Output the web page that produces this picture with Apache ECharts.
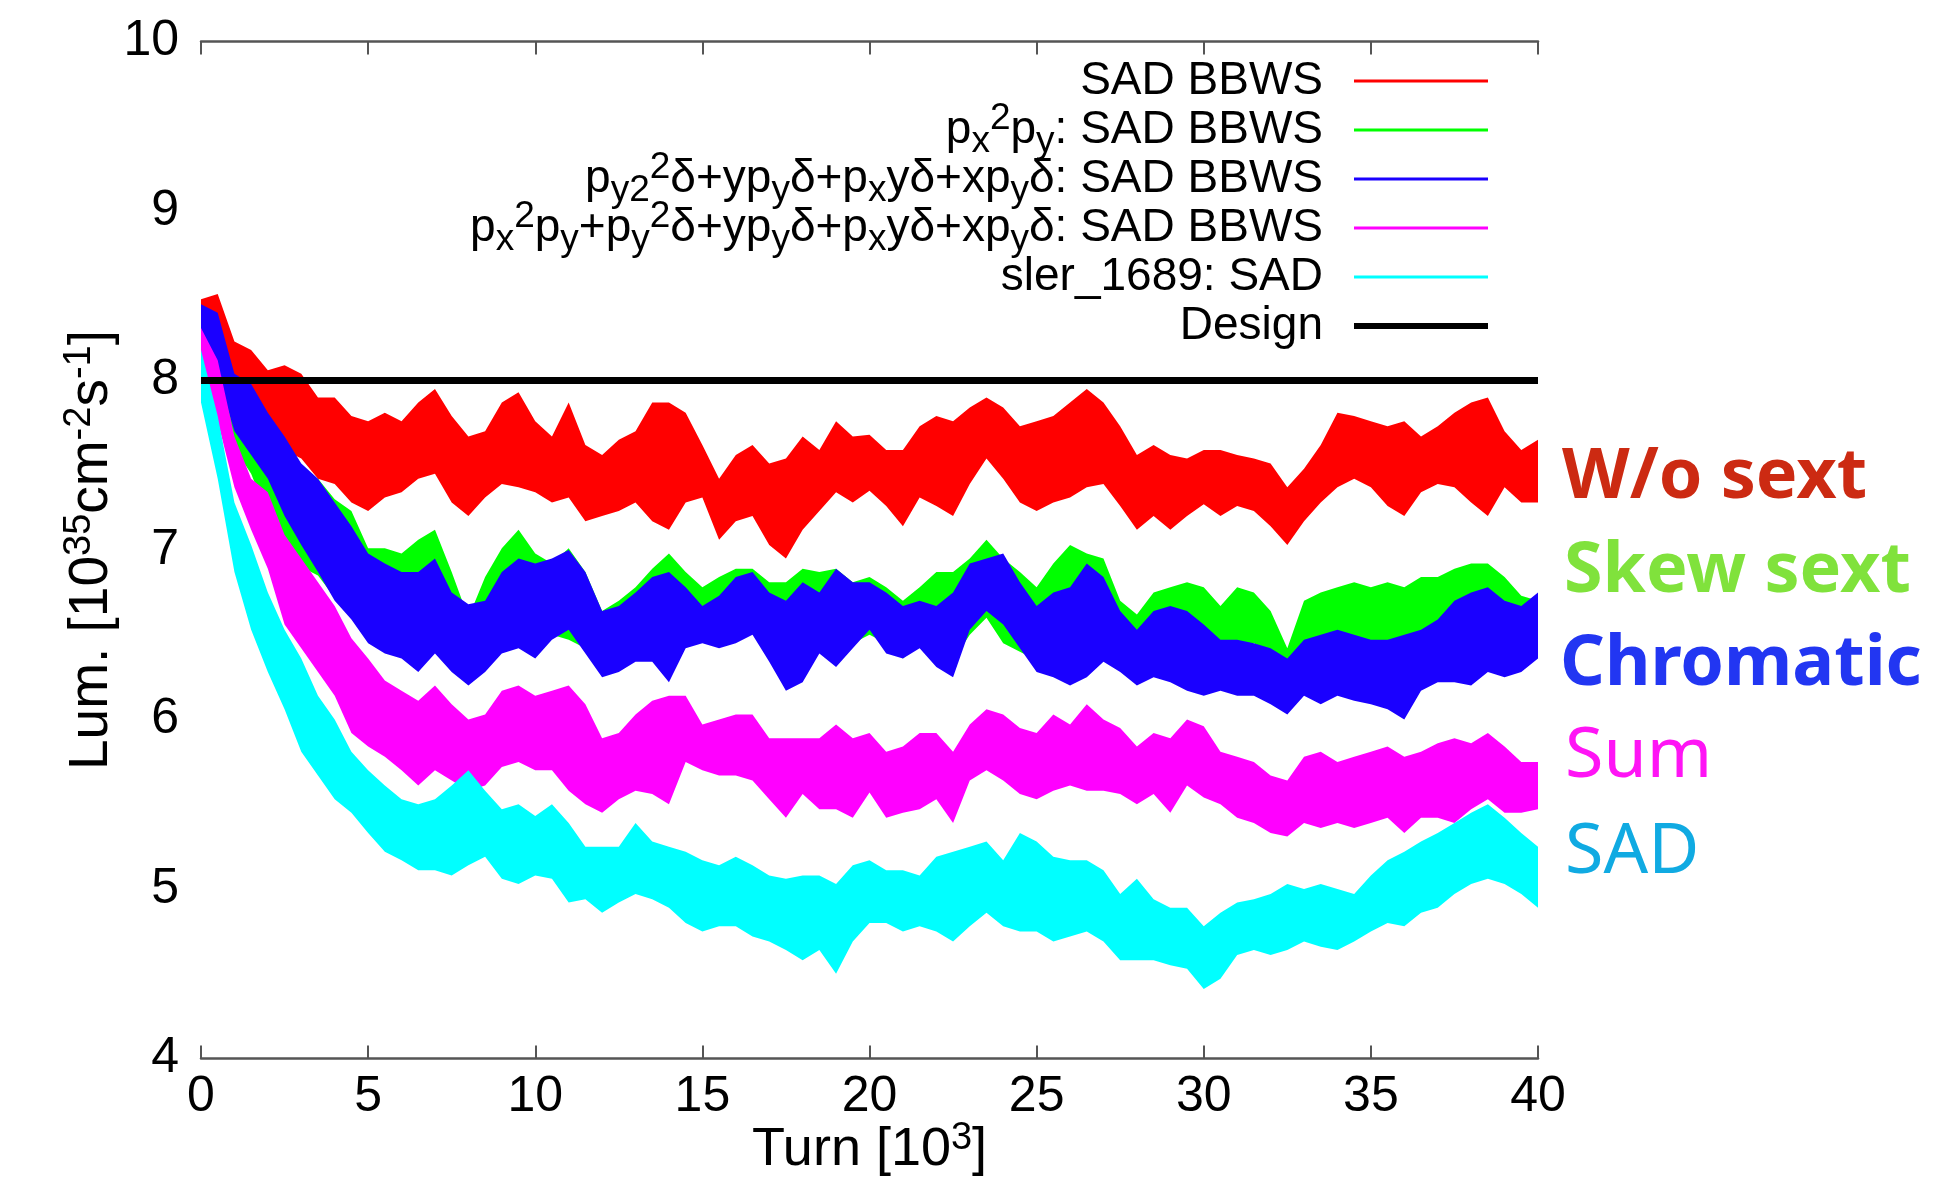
<!DOCTYPE html>
<html>
<head>
<meta charset="utf-8">
<title>Luminosity vs turn</title>
<script src="https://cdn.jsdelivr.net/npm/echarts@6/dist/echarts.min.js"></script>
<style>
  html, body { margin: 0; padding: 0; background: #fff; }
  #chart { width: 1957px; height: 1177px; }
</style>
</head>
<body>
<div id="chart"></div>
<script>
// turn number in units of 10^3, one reading every 500 turns
var turns = [
  0, 0.5, 1, 1.5, 2, 2.5, 3, 3.5, 4, 4.5, 5, 5.5, 6, 6.5, 7, 7.5, 8, 8.5, 9, 9.5,
  10, 10.5, 11, 11.5, 12, 12.5, 13, 13.5, 14, 14.5, 15, 15.5, 16, 16.5, 17, 17.5, 18, 18.5, 19, 19.5,
  20, 20.5, 21, 21.5, 22, 22.5, 23, 23.5, 24, 24.5, 25, 25.5, 26, 26.5, 27, 27.5, 28, 28.5, 29, 29.5,
  30, 30.5, 31, 31.5, 32, 32.5, 33, 33.5, 34, 34.5, 35, 35.5, 36, 36.5, 37, 37.5, 38, 38.5, 39, 39.5, 40
]

// upper / lower edge of each noisy luminosity band [10^35 cm^-2 s^-1]
var redTop = [
  8.48, 8.51, 8.23, 8.18, 8.06, 8.09, 8.04, 7.90, 7.90, 7.79, 7.76, 7.81, 7.76, 7.87, 7.95, 7.79, 7.67, 7.70, 7.87, 7.93, 7.76,
  7.67, 7.87, 7.62, 7.56, 7.65, 7.70, 7.87, 7.87, 7.81, 7.62, 7.42, 7.56, 7.62, 7.51, 7.54, 7.67, 7.59, 7.76, 7.67, 7.68,
  7.59, 7.59, 7.73, 7.79, 7.76, 7.84, 7.90, 7.84, 7.73, 7.76, 7.79, 7.87, 7.95, 7.87, 7.73, 7.56, 7.62, 7.56, 7.54, 7.59,
  7.59, 7.56, 7.54, 7.51, 7.37, 7.48, 7.62, 7.81, 7.79, 7.76, 7.73, 7.76, 7.67, 7.73, 7.81, 7.87, 7.90, 7.70, 7.59, 7.65
]
var redLow = [
  8.20, 8.09, 7.95, 7.90, 7.76, 7.59, 7.54, 7.42, 7.39, 7.28, 7.23, 7.31, 7.34, 7.42, 7.45, 7.28, 7.20, 7.31, 7.39, 7.37, 7.34,
  7.28, 7.31, 7.17, 7.20, 7.23, 7.28, 7.17, 7.12, 7.28, 7.31, 7.06, 7.17, 7.20, 7.03, 6.95, 7.12, 7.23, 7.34, 7.28, 7.35,
  7.26, 7.14, 7.31, 7.26, 7.20, 7.39, 7.54, 7.42, 7.28, 7.23, 7.28, 7.31, 7.37, 7.39, 7.26, 7.12, 7.20, 7.12, 7.20, 7.27,
  7.20, 7.26, 7.23, 7.14, 7.03, 7.17, 7.28, 7.37, 7.42, 7.37, 7.26, 7.20, 7.34, 7.39, 7.37, 7.28, 7.20, 7.37, 7.28, 7.28
]
var greenTop = [
  8.40, 8.35, 8.00, 7.90, 7.75, 7.60, 7.45, 7.42, 7.30, 7.23, 7.01, 7.01, 6.98, 7.06, 7.12, 6.87, 6.60, 6.84, 7.01, 7.12, 6.98,
  6.92, 7.01, 6.87, 6.64, 6.70, 6.78, 6.89, 6.98, 6.87, 6.78, 6.84, 6.89, 6.89, 6.81, 6.81, 6.89, 6.87, 6.89, 6.81, 6.84,
  6.78, 6.70, 6.78, 6.87, 6.87, 6.95, 7.06, 6.95, 6.87, 6.78, 6.92, 7.03, 6.98, 6.95, 6.70, 6.62, 6.75, 6.78, 6.81, 6.78,
  6.67, 6.78, 6.75, 6.64, 6.42, 6.70, 6.75, 6.78, 6.81, 6.78, 6.81, 6.78, 6.84, 6.84, 6.89, 6.92, 6.92, 6.84, 6.73, 6.70
]
var greenLow = [
  8.10, 7.95, 7.60, 7.45, 7.20, 7.00, 6.90, 6.85, 6.72, 6.65, 6.50, 6.45, 6.42, 6.40, 6.45, 6.35, 6.25, 6.32, 6.42, 6.48, 6.45,
  6.50, 6.47, 6.42, 6.28, 6.30, 6.40, 6.40, 6.35, 6.45, 6.48, 6.45, 6.48, 6.52, 6.40, 6.25, 6.28, 6.42, 6.38, 6.45, 6.50,
  6.45, 6.36, 6.45, 6.40, 6.35, 6.50, 6.60, 6.45, 6.40, 6.35, 6.32, 6.30, 6.32, 6.38, 6.33, 6.28, 6.32, 6.30, 6.28, 6.35,
  6.40, 6.42, 6.45, 6.40, 6.30, 6.42, 6.45, 6.45, 6.42, 6.40, 6.40, 6.38, 6.45, 6.45, 6.45, 6.45, 6.48, 6.45, 6.42, 6.36
]
var blueTop = [
  8.45, 8.40, 8.04, 7.98, 7.81, 7.67, 7.51, 7.42, 7.28, 7.14, 6.98, 6.92, 6.87, 6.87, 6.95, 6.75, 6.68, 6.70, 6.87, 6.95, 6.92,
  6.95, 7.00, 6.87, 6.64, 6.67, 6.75, 6.84, 6.87, 6.78, 6.67, 6.73, 6.84, 6.87, 6.75, 6.70, 6.81, 6.75, 6.89, 6.81, 6.81,
  6.75, 6.67, 6.70, 6.67, 6.75, 6.92, 6.95, 6.98, 6.81, 6.67, 6.75, 6.78, 6.92, 6.84, 6.64, 6.53, 6.64, 6.67, 6.64, 6.56,
  6.47, 6.47, 6.45, 6.42, 6.36, 6.47, 6.50, 6.53, 6.50, 6.47, 6.47, 6.50, 6.53, 6.59, 6.70, 6.75, 6.78, 6.70, 6.67, 6.75
]
var blueLow = [
  8.15, 8.04, 7.70, 7.56, 7.42, 7.20, 7.03, 6.87, 6.70, 6.59, 6.45, 6.39, 6.36, 6.28, 6.39, 6.28, 6.20, 6.28, 6.39, 6.42, 6.36,
  6.47, 6.53, 6.39, 6.25, 6.28, 6.34, 6.34, 6.22, 6.42, 6.45, 6.42, 6.45, 6.50, 6.34, 6.17, 6.22, 6.39, 6.31, 6.42, 6.53,
  6.39, 6.36, 6.42, 6.31, 6.25, 6.53, 6.64, 6.56, 6.42, 6.28, 6.25, 6.20, 6.25, 6.34, 6.28, 6.20, 6.25, 6.22, 6.17, 6.14,
  6.17, 6.14, 6.14, 6.09, 6.03, 6.14, 6.09, 6.14, 6.11, 6.09, 6.06, 6.00, 6.17, 6.22, 6.22, 6.20, 6.28, 6.25, 6.28, 6.36
]
var magentaTop = [
  8.31, 8.12, 7.67, 7.42, 7.34, 7.09, 6.95, 6.81, 6.67, 6.48, 6.36, 6.23, 6.17, 6.11, 6.20, 6.09, 6.00, 6.03, 6.17, 6.20, 6.14,
  6.17, 6.20, 6.09, 5.89, 5.92, 6.03, 6.11, 6.14, 6.14, 5.97, 6.00, 6.03, 6.03, 5.89, 5.89, 5.89, 5.89, 5.97, 5.89, 5.92,
  5.81, 5.84, 5.92, 5.92, 5.81, 5.97, 6.06, 6.03, 5.95, 5.92, 6.03, 5.97, 6.09, 6.00, 5.95, 5.84, 5.92, 5.89, 6.00, 5.96,
  5.81, 5.78, 5.75, 5.67, 5.64, 5.78, 5.81, 5.75, 5.78, 5.81, 5.84, 5.78, 5.81, 5.86, 5.89, 5.86, 5.92, 5.84, 5.75, 5.75
]
var magentaLow = [
  8.00, 7.76, 7.37, 7.12, 6.89, 6.56, 6.42, 6.28, 6.14, 5.92, 5.84, 5.78, 5.70, 5.61, 5.70, 5.64, 5.58, 5.61, 5.72, 5.75, 5.70,
  5.70, 5.58, 5.50, 5.45, 5.53, 5.58, 5.56, 5.50, 5.75, 5.70, 5.67, 5.67, 5.64, 5.53, 5.42, 5.56, 5.47, 5.47, 5.42, 5.57,
  5.42, 5.45, 5.47, 5.53, 5.39, 5.64, 5.70, 5.64, 5.56, 5.53, 5.58, 5.61, 5.58, 5.58, 5.56, 5.50, 5.56, 5.45, 5.61, 5.54,
  5.50, 5.42, 5.39, 5.33, 5.31, 5.39, 5.36, 5.39, 5.36, 5.39, 5.42, 5.33, 5.42, 5.42, 5.39, 5.47, 5.53, 5.45, 5.45, 5.47
]
var cyanTop = [
  8.18, 7.79, 7.28, 7.03, 6.75, 6.53, 6.36, 6.14, 6.00, 5.81, 5.70, 5.61, 5.53, 5.50, 5.53, 5.61, 5.70, 5.58, 5.47, 5.50, 5.43,
  5.50, 5.39, 5.25, 5.25, 5.25, 5.39, 5.28, 5.25, 5.22, 5.17, 5.14, 5.19, 5.14, 5.08, 5.06, 5.08, 5.08, 5.03, 5.14, 5.17,
  5.11, 5.11, 5.08, 5.19, 5.22, 5.25, 5.28, 5.17, 5.33, 5.28, 5.19, 5.17, 5.17, 5.11, 4.97, 5.06, 4.94, 4.89, 4.89, 4.78,
  4.86, 4.92, 4.94, 4.97, 5.03, 5.00, 5.03, 5.00, 4.97, 5.08, 5.17, 5.22, 5.28, 5.33, 5.39, 5.45, 5.50, 5.42, 5.33, 5.25
]
var cyanLow = [
  7.87, 7.42, 6.87, 6.53, 6.28, 6.06, 5.81, 5.67, 5.53, 5.45, 5.33, 5.22, 5.17, 5.11, 5.11, 5.08, 5.14, 5.19, 5.06, 5.03, 5.08,
  5.06, 4.92, 4.94, 4.86, 4.92, 4.97, 4.94, 4.89, 4.80, 4.75, 4.78, 4.78, 4.72, 4.69, 4.64, 4.58, 4.64, 4.50, 4.69, 4.80,
  4.80, 4.75, 4.78, 4.75, 4.69, 4.78, 4.86, 4.78, 4.75, 4.75, 4.69, 4.72, 4.75, 4.69, 4.58, 4.58, 4.58, 4.55, 4.53, 4.41,
  4.47, 4.61, 4.64, 4.61, 4.64, 4.69, 4.66, 4.64, 4.69, 4.75, 4.80, 4.78, 4.86, 4.89, 4.97, 5.03, 5.06, 5.03, 4.97, 4.89
]
var designLevel = 8

var seriesNames = ['SAD BBWS', 'px2py', 'chromatic', 'sum', 'sler_1689', 'Design']
var legendLabels = [
  'SAD BBWS',
  'p{sub|x}{sup|2}p{sub|y}: SAD BBWS',
  'p{sub|y2}{sup|2}δ+yp{sub|y}δ+p{sub|x}yδ+xp{sub|y}δ: SAD BBWS',
  'p{sub|x}{sup|2}p{sub|y}+p{sub|y}{sup|2}δ+yp{sub|y}δ+p{sub|x}yδ+xp{sub|y}δ: SAD BBWS',
  'sler_1689: SAD',
  'Design'
]
var bandTags = ['W/o sext', 'Skew sext', 'Chromatic', 'Sum', 'SAD']

var font = "'Liberation Sans', Arial, sans-serif"
var tagFont = "'Noto Sans', 'DejaVu Sans', sans-serif"
var colors = ['#ff0000', '#00ff00', '#1a00ff', '#ff00ff', '#00ffff', '#000000']

var bands = [
  { top: redTop, low: redLow },
  { top: greenTop, low: greenLow },
  { top: blueTop, low: blueLow },
  { top: magentaTop, low: magentaLow },
  { top: cyanTop, low: cyanLow }
]

var series = []
bands.forEach(function (b, k) {
  var name = seriesNames[k]
  // invisible lower edge, the band is stacked on it
  series.push({
    name: name + ' base',
    type: 'line',
    stack: name,
    symbol: 'none',
    silent: true,
    data: b.low,
    lineStyle: { width: 0, opacity: 0 }
  })
  series.push({
    name: name,
    type: 'line',
    stack: name,
    symbol: 'none',
    data: b.top.map(function (v, i) { return +(v - b.low[i]).toFixed(3) }),
    lineStyle: { width: 0, opacity: 0 },
    itemStyle: { color: colors[k] },
    areaStyle: { color: colors[k], opacity: 1 }
  })
})
series.push({
  name: 'Design',
  type: 'line',
  symbol: 'none',
  z: 4,
  data: turns.map(function () { return designLevel }),
  itemStyle: { color: '#000' },
  lineStyle: { color: '#000', width: 7 }
})

var axisGray = '#555'
var frameLine = { lineStyle: { color: axisGray, width: 2.5 } }
// one tick every 5k turns = every 10th reading
var tickEvery = function (i) { return i % 10 === 0 }
var innerTick = { inside: true, length: 13, interval: tickEvery, lineStyle: { color: axisGray, width: 2 } }
var innerTickY = { inside: true, length: 13, lineStyle: { color: axisGray, width: 2 } }
var supStyle = { fontSize: 37, lineHeight: 22, verticalAlign: 'top' }
var subStyle = { fontSize: 37, lineHeight: 22, verticalAlign: 'bottom' }

var option = {
  animation: false,
  backgroundColor: '#fff',
  grid: { left: 201, right: 419, top: 41.5, bottom: 118.5, outerBoundsMode: 'none' },
  xAxis: [
    {
      type: 'category',
      data: turns,
      boundaryGap: false,
      position: 'bottom',
      name: 'Turn [10{sup|3}]',
      nameLocation: 'middle',
      nameGap: 61,
      nameMoveOverlap: false,
      nameTextStyle: {
        fontFamily: font, fontSize: 54, color: '#000', lineHeight: 62,
        rich: { sup: { fontSize: 38, lineHeight: 22, verticalAlign: 'top' } }
      },
      axisLine: frameLine,
      axisTick: innerTick,
      axisLabel: { fontFamily: font, fontSize: 50, color: '#000', margin: 14, interval: tickEvery },
      splitLine: { show: false }
    },
    {
      type: 'category',
      data: turns,
      boundaryGap: false,
      position: 'top',
      axisLine: frameLine,
      axisTick: innerTick,
      axisLabel: { show: false },
      splitLine: { show: false }
    }
  ],
  yAxis: [
    {
      type: 'value',
      min: 4,
      max: 10,
      interval: 1,
      position: 'left',
      name: 'Lum. [10{sup|35}cm{sup|-2}s{sup|-1}]',
      nameLocation: 'middle',
      nameGap: 78,
      nameMoveOverlap: false,
      nameTextStyle: {
        fontFamily: font, fontSize: 55, color: '#000', lineHeight: 62,
        rich: { sup: { fontSize: 38, lineHeight: 22, verticalAlign: 'top' } }
      },
      axisLine: frameLine,
      axisTick: innerTickY,
      axisLabel: { fontFamily: font, fontSize: 50, color: '#000', margin: 22 },
      splitLine: { show: false }
    },
    {
      type: 'value',
      min: 4,
      max: 10,
      interval: 1,
      position: 'right',
      axisLine: frameLine,
      axisTick: innerTickY,
      axisLabel: { show: false },
      splitLine: { show: false }
    }
  ],
  legend: {
    orient: 'vertical',
    align: 'right',
    right: 461,
    top: 46,
    itemWidth: 134,
    itemHeight: 20,
    itemGap: -11,
    selectedMode: false,
    itemStyle: { opacity: 0 },
    data: seriesNames.map(function (n, k) {
      return {
        name: n,
        itemStyle: { opacity: 0 },
        lineStyle: { color: colors[k], width: k === 5 ? 6 : 3, opacity: 1 }
      }
    }),
    formatter: function (name) {
      return legendLabels[seriesNames.indexOf(name)] + '{gap|}'
    },
    textStyle: {
      fontFamily: font,
      fontSize: 46,
      color: '#000',
      lineHeight: 60,
      rich: { sup: supStyle, sub: subStyle, gap: { width: 26 } }
    }
  },
  graphic: [
    { type: 'text', x: 1562, y: 478, style: { text: bandTags[0], fill: '#cc2a12', fontFamily: tagFont, fontSize: 70, fontWeight: 'bold', verticalAlign: 'middle' } },
    { type: 'text', x: 1564, y: 572, style: { text: bandTags[1], fill: '#80e23c', fontFamily: tagFont, fontSize: 70, fontWeight: 'bold', verticalAlign: 'middle' } },
    { type: 'text', x: 1560, y: 665, style: { text: bandTags[2], fill: '#2236f2', fontFamily: tagFont, fontSize: 70, fontWeight: 'bold', verticalAlign: 'middle' } },
    { type: 'text', x: 1565, y: 757, style: { text: bandTags[3], fill: '#ff14f5', fontFamily: tagFont, fontSize: 70, fontWeight: 'normal', verticalAlign: 'middle' } },
    { type: 'text', x: 1565, y: 853, style: { text: bandTags[4], fill: '#10aae2', fontFamily: tagFont, fontSize: 70, fontWeight: 'normal', verticalAlign: 'middle' } }
  ],
  series: series
}

var myChart = echarts.init(document.getElementById('chart'))
myChart.setOption(option)
</script>
</body>
</html>
